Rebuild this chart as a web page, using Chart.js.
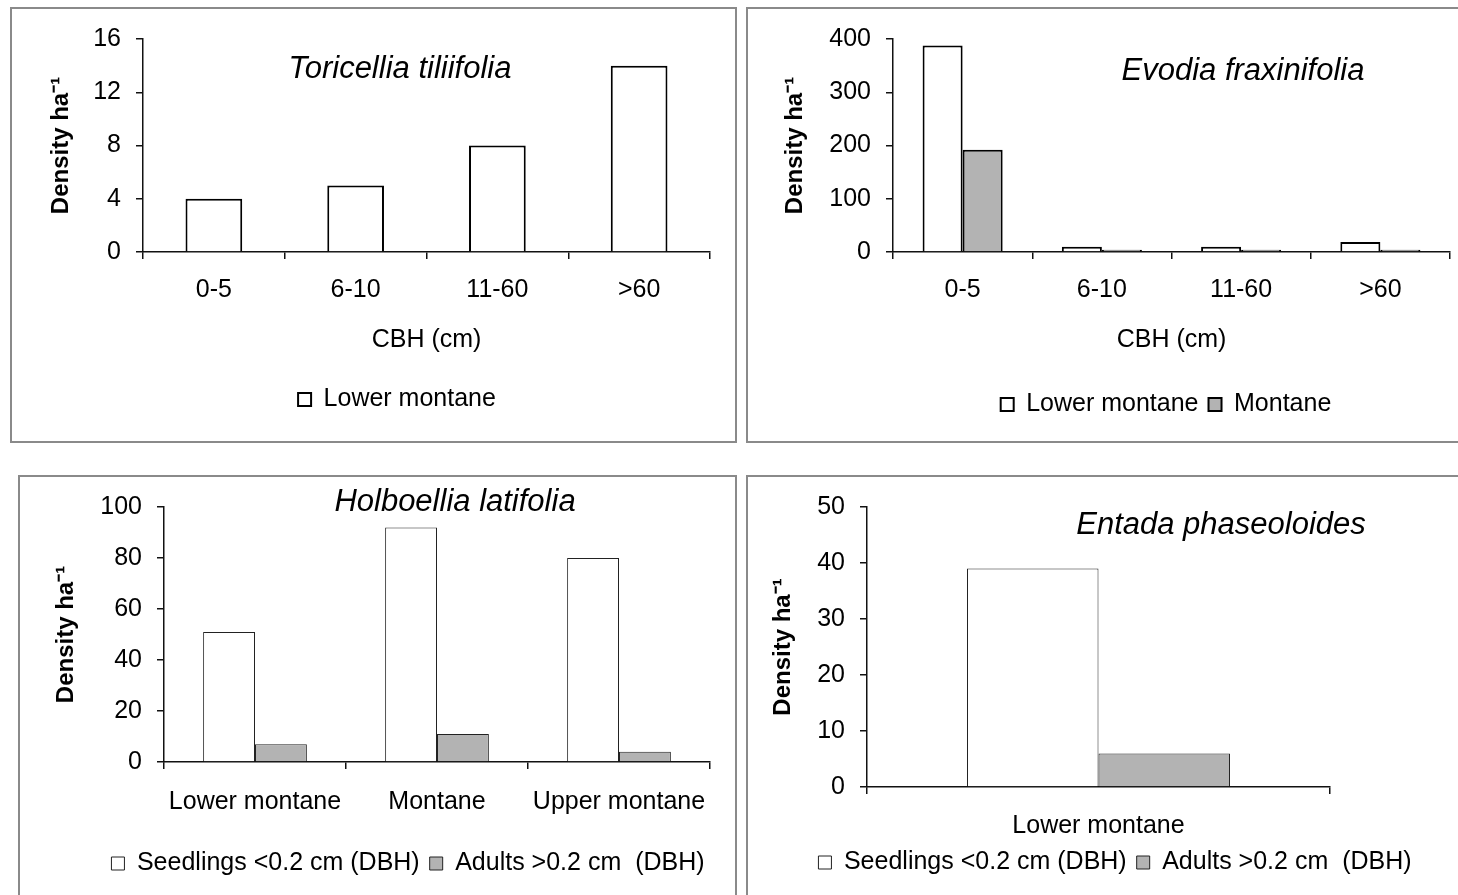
<!DOCTYPE html>
<html>
<head>
<meta charset="utf-8">
<script src="https://cdn.jsdelivr.net/npm/chart.js@4.4.1/dist/chart.umd.min.js"></script>
<style>
  html, body { margin: 0; padding: 0; background: #fff; width: 1458px; height: 895px; overflow: hidden; position: relative; }
  .panel { position: absolute; border: 2px solid #8a8a8a; }
  .panel canvas { display: block; }
</style>
</head>
<body>
<div class="panel" style="left:10px;top:7px;"><canvas id="toricellia" width="723" height="432"></canvas></div>
<div class="panel" style="left:746px;top:7px;"><canvas id="evodia" width="712" height="432"></canvas></div>
<div class="panel" style="left:18px;top:475px;"><canvas id="holboellia" width="715" height="426"></canvas></div>
<div class="panel" style="left:746px;top:475px;"><canvas id="entada" width="712" height="426"></canvas></div>

<script>
// --- data ---
const cbhClasses = ['0-5', '6-10', '11-60', '>60'];
const toricelliaLower = [4, 5, 8, 14];
const evodiaLower = [388, 10, 10, 19];
const evodiaMontane = [192, 4, 4, 4];

const zones = ['Lower montane', 'Montane', 'Upper montane'];
const holboelliaSeedlings = [51, 92, 80];
const holboelliaAdults = [7, 11, 4];

const entadaZones = ['Lower montane'];
const entadaSeedlings = [39];
const entadaAdults = [6];

const seedlingLabel = 'Seedlings <0.2 cm (DBH)';
const adultLabel = 'Adults >0.2 cm  (DBH)';

const FONT = '"Liberation Sans", Arial, sans-serif';
const TXT = 25;
Chart.defaults.font.family = FONT;
Chart.defaults.color = '#000';

// species name written inside the plot
const innerTitle = {
  id: 'innerTitle',
  afterDraw(chart, args, opts) {
    const ctx = chart.ctx;
    ctx.save();
    ctx.font = 'italic 31px ' + FONT;
    ctx.fillStyle = '#000';
    ctx.textAlign = 'center';
    ctx.textBaseline = 'middle';
    ctx.fillText(opts.text, opts.x, opts.y);
    ctx.restore();
  }
};

// move the legend so it is centred where the original one is
const legendShift = {
  id: 'legendShift',
  afterLayout(chart, args, opts) {
    const lg = chart.legend;
    if (!lg || opts.centerX == null) return;
    const w = lg.right - lg.left;
    lg.left = opts.centerX - w / 2;
    lg.right = lg.left + w;
  }
};

function barChart(id, labels, datasets, o) {
  const axisColor = '#111';
  const scales = {
    x: {
      grid: { drawOnChartArea: false, color: axisColor, tickLength: 7, lineWidth: 1.5 },
      border: { color: axisColor, width: 1.5 },
      ticks: { font: { size: TXT }, padding: o.xPad, color: '#000' },
      title: { display: !!o.xTitle, text: o.xTitle || '', font: { size: TXT }, color: '#000',
               padding: { top: 0, bottom: o.xTitlePad || 0 } },
      afterFit: s => { s.height = s.chart.height - o.bottom - s.chart.legend.height - o.plotBottom; }
    },
    y: {
      min: 0,
      max: o.max,
      ticks: { stepSize: o.step, font: { size: TXT }, padding: 15, color: '#000' },
      grid: { drawOnChartArea: false, color: axisColor, tickLength: 7, lineWidth: 1.5 },
      border: { color: axisColor, width: 1.5 },
      title: { display: true, text: 'Density ha\u207B\u00B9', font: { size: 24, weight: 'bold' }, color: '#000',
               padding: { top: o.yTitlePad, bottom: 0 } },
      afterFit: s => { s.width = o.plotLeft; }
    }
  };
  if (o.rightGap) {
    scales.yGap = {
      position: 'right',
      grid: { display: false },
      border: { display: false },
      ticks: { display: false },
      afterFit: s => { s.width = o.rightGap; }
    };
  }
  return new Chart(document.getElementById(id), {
    type: 'bar',
    data: { labels: labels, datasets: datasets },
    options: {
      responsive: false,
      animation: false,
      events: [],
      layout: { padding: { left: 0, top: o.top, right: o.right, bottom: o.bottom } },
      datasets: { bar: { categoryPercentage: o.catPct, barPercentage: 1 } },
      plugins: {
        legend: {
          position: 'bottom',
          labels: { boxWidth: 13, boxHeight: 13, font: { size: TXT }, color: '#000', padding: 10 }
        },
        tooltip: { enabled: false },
        innerTitle: { text: o.title, x: o.titleX, y: o.titleY },
        legendShift: { centerX: o.legendX }
      },
      scales: scales
    },
    plugins: [innerTitle, legendShift]
  });
}

barChart('toricellia', cbhClasses, [
  { label: 'Lower montane', data: toricelliaLower, backgroundColor: '#ffffff', borderColor: '#000', borderWidth: 2 }
], {
  top: 27, right: 25, bottom: 19, plotLeft: 131, plotBottom: 243,
  max: 16, step: 4, catPct: 0.4, xPad: 16, xTitle: 'CBH (cm)', xTitlePad: 22, yTitlePad: 35,
  title: 'Toricellia tiliifolia', titleX: 388, titleY: 60, legendX: 385
});

barChart('evodia', cbhClasses, [
  { label: 'Lower montane', data: evodiaLower, backgroundColor: '#ffffff', borderColor: '#000', borderWidth: 2 },
  { label: 'Montane', data: evodiaMontane, backgroundColor: '#b3b3b3', borderColor: '#000', borderWidth: 2 }
], {
  top: 27, right: 10, bottom: 14, plotLeft: 145, plotBottom: 243,
  max: 400, step: 100, catPct: 0.575, xPad: 16, xTitle: 'CBH (cm)', xTitlePad: 27, yTitlePad: 33,
  title: 'Evodia fraxinifolia', titleX: 495, titleY: 62, legendX: 418
});

barChart('holboellia', zones, [
  { label: seedlingLabel, data: holboelliaSeedlings, backgroundColor: '#ffffff', borderColor: '#222', borderWidth: 1 },
  { label: adultLabel, data: holboelliaAdults, backgroundColor: '#b3b3b3', borderColor: '#222', borderWidth: 1 }
], {
  top: 25, right: 25, bottom: 17, plotLeft: 144, plotBottom: 285,
  max: 100, step: 20, catPct: 0.57, xPad: 18, yTitlePad: 32,
  title: 'Holboellia latifolia', titleX: 435, titleY: 25, legendX: 388
});

barChart('entada', entadaZones, [
  { label: seedlingLabel, data: entadaSeedlings, backgroundColor: '#ffffff', borderColor: '#222', borderWidth: 1 },
  { label: adultLabel, data: entadaAdults, backgroundColor: '#b3b3b3', borderColor: '#222', borderWidth: 1 }
], {
  top: 20, right: 0, rightGap: 130, bottom: 18, plotLeft: 119, plotBottom: 310,
  max: 50, step: 10, catPct: 0.568, xPad: 17, yTitlePad: 21,
  title: 'Entada phaseoloides', titleX: 473, titleY: 48, legendX: 367
});
</script>
</body>
</html>
